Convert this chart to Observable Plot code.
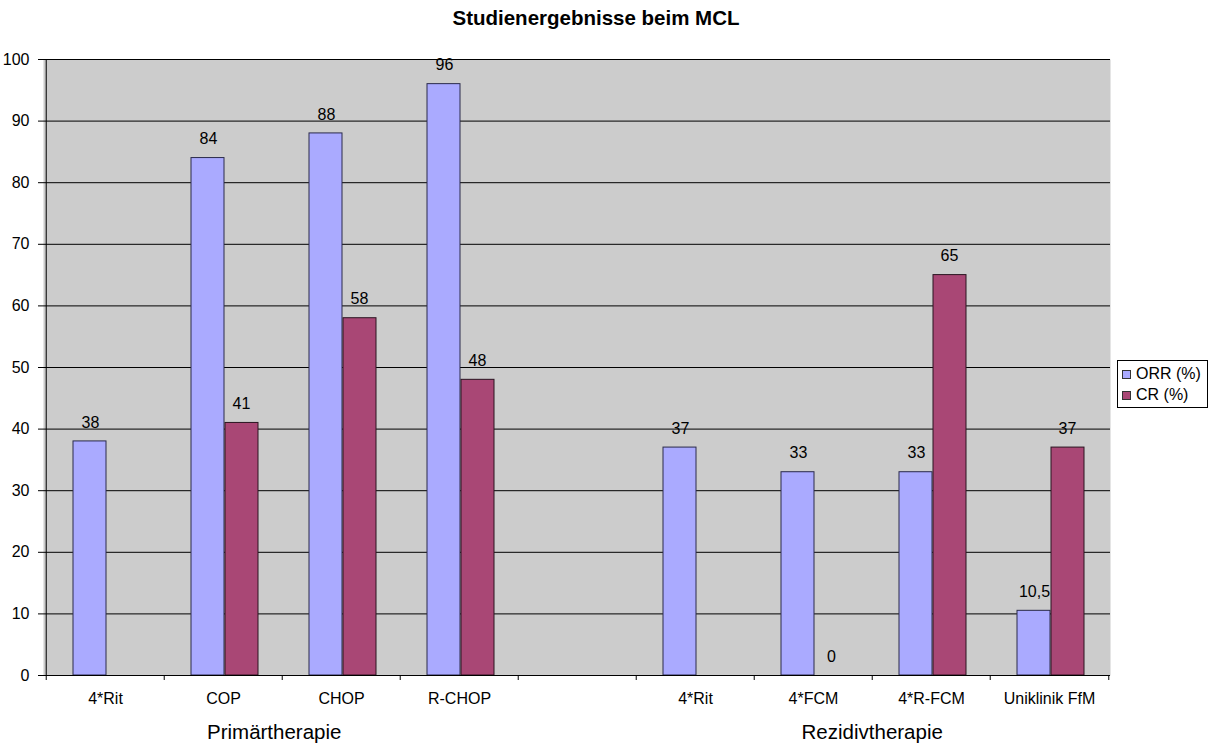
<!DOCTYPE html>
<html>
<head>
<meta charset="utf-8">
<script src="https://cdn.jsdelivr.net/npm/d3@7"></script>
<script src="https://cdn.jsdelivr.net/npm/@observablehq/plot@0.6"></script>
<style>
  html, body { margin: 0; padding: 0; background: #fff; }
  body { font-family: "Liberation Sans", Arial, sans-serif; }
  #wrap { position: relative; width: 1210px; height: 747px; }
  #title { position: absolute; left: 0; top: 6px; width: 1192px; text-align: center; font-weight: bold; font-size: 20.5px; color: #000; }
  #legend { position: absolute; left: 1117px; top: 360px; width: 89px; height: 46px; border: 1px solid #000; background: #fff; font-size: 16px; }
  .item { position: absolute; left: 4px; display: flex; align-items: center; height: 20px; }
  .sw { width: 7px; height: 7px; border: 1px solid #333; margin-right: 5px; }
</style>
</head>
<body>
<div id="wrap">
  <div id="chart"></div>
  <div id="title"></div>
  <div id="legend"></div>
</div>
<script>
const title = "Studienergebnisse beim MCL";
const keys = ["p1", "p2", "p3", "p4", "gap", "r1", "r2", "r3", "r4"];
const categories = ["4*Rit", "COP", "CHOP", "R-CHOP", "", "4*Rit", "4*FCM", "4*R-FCM", "Uniklinik FfM"];
const orr = [38, 84, 88, 96, null, 37, 33, 33, 10.5];
const cr = [null, 41, 58, 48, null, null, 0, 65, 37];
const seriesNames = ["ORR (%)", "CR (%)"];
const seriesColors = ["#aaaaff", "#a94775"];
const groups = [
  {key: "p3", label: "Primärtherapie"},
  {key: "r3", label: "Rezidivtherapie"}
];
const yTicks = [0, 10, 20, 30, 40, 50, 60, 70, 80, 90, 100];

const fmt = v => String(v).replace(".", ",");
const orrRows = keys.map((k, i) => ({k, v: orr[i]})).filter(d => d.v != null);
const crRows = keys.map((k, i) => ({k, v: cr[i]})).filter(d => d.v != null);
const labelOf = new Map(keys.map((k, i) => [k, categories[i]]));

const W = 1210, H = 747, ML = 43, MR = 100, MT = 59, MB = 72;
const step = (W - ML - MR) / keys.length;

const chart = Plot.plot({
  width: W, height: H,
  marginLeft: ML, marginRight: MR, marginTop: MT, marginBottom: MB,
  style: {fontFamily: "'Liberation Sans', Arial, sans-serif", fontSize: "16px", color: "#000", background: "transparent"},
  x: {domain: keys, padding: 0, label: null},
  y: {domain: [0, 100], label: null},
  marks: [
    Plot.frame({fill: "#cccccc", stroke: null}),
    Plot.gridY(yTicks, {stroke: "#000", strokeOpacity: 1, strokeWidth: 1}),
    Plot.barY(orrRows, {x: "k", y: "v", fill: seriesColors[0], stroke: "#2a2a4a", strokeWidth: 1, insetLeft: 27, insetRight: 58}),
    Plot.barY(crRows, {x: "k", y: "v", fill: seriesColors[1], stroke: "#2a1420", strokeWidth: 1, insetLeft: 61, insetRight: 24}),
    Plot.text(orrRows, {x: "k", y: "v", text: d => fmt(d.v), dx: -15, dy: -19, lineAnchor: "middle", fontSize: 16, fill: "#000"}),
    Plot.text(crRows, {x: "k", y: "v", text: d => fmt(d.v), dx: 18, dy: -19, lineAnchor: "middle", fontSize: 16, fill: "#000"}),
    Plot.ruleY([0], {stroke: "#000", strokeWidth: 1}),
    Plot.ruleX([keys[0]], {dx: -step / 2, stroke: "#000", strokeWidth: 1}),
    Plot.axisY({ticks: yTicks, tickSize: 5, tickPadding: 9, fontSize: 16, label: null}),
    Plot.axisX({ticks: keys, tickSize: 5, tickFormat: () => "", dx: -step / 2, label: null}),
    Plot.axisX({ticks: [keys[keys.length - 1]], tickSize: 5, tickFormat: () => "", dx: step / 2, label: null}),
    Plot.axisX({ticks: keys, tickSize: 0, tickPadding: 17, tickFormat: k => labelOf.get(k), fontSize: 16, label: null}),
    Plot.text(groups.slice(0, 1), {x: "key", text: "label", frameAnchor: "bottom", dx: -step / 2 - 8, dy: 56.5, lineAnchor: "middle", fontSize: 20.5, fill: "#000"}),
    Plot.text(groups.slice(1), {x: "key", text: "label", frameAnchor: "bottom", dx: -step / 2, dy: 56.5, lineAnchor: "middle", fontSize: 20.5, fill: "#000"})
  ]
});
document.getElementById("chart").appendChild(chart);
document.getElementById("title").textContent = title;

const legend = document.getElementById("legend");
seriesNames.forEach((name, i) => {
  const item = document.createElement("div");
  item.className = "item";
  item.style.top = (3 + i * 21) + "px";
  const sw = document.createElement("span");
  sw.className = "sw";
  sw.style.background = seriesColors[i];
  const t = document.createElement("span");
  t.textContent = name;
  item.appendChild(sw);
  item.appendChild(t);
  legend.appendChild(item);
});
</script>
</body>
</html>
